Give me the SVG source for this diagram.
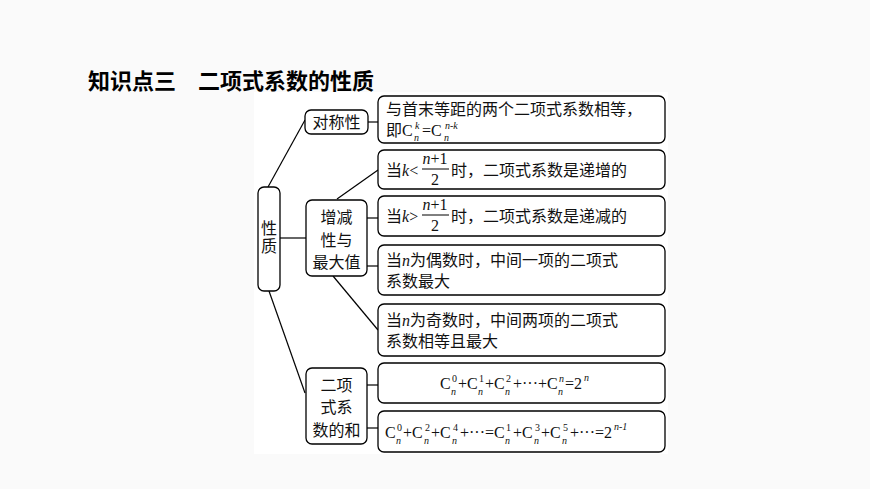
<svg xmlns="http://www.w3.org/2000/svg" width="870" height="489" viewBox="0 0 870 489">
<style>
.b{fill:#fff;stroke:#000;stroke-width:1.3}
.t{font-family:"Liberation Serif","Noto Sans CJK SC",serif;font-size:16px;fill:#111}
.m{font-family:"Liberation Serif",serif;font-size:16px;fill:#111}
.s{font-family:"Liberation Serif",serif;font-size:10px;font-style:italic;fill:#111}
.u{font-family:"Liberation Serif",serif;font-size:10px;fill:#111}
.i{font-style:italic}
#c line{stroke:#000;stroke-width:1.2}
</style>
<rect width="870" height="489" fill="#fafafa"/>
<rect x="254" y="92" width="414" height="362" fill="#fff"/>
<text x="88" y="89" style="font-family:'Noto Sans CJK SC',sans-serif;font-size:22px;font-weight:700" fill="#000">知识点三　二项式系数的性质</text>
<g id="c">
<line x1="268" y1="187" x2="305" y2="120"/>
<line x1="280" y1="238" x2="306" y2="238"/>
<line x1="269" y1="291" x2="305" y2="393"/>
<line x1="368" y1="122" x2="378" y2="122"/>
<line x1="337" y1="199" x2="378" y2="170"/>
<line x1="367" y1="218" x2="378" y2="218"/>
<line x1="367" y1="266" x2="378" y2="266"/>
<line x1="333" y1="276" x2="378" y2="330"/>
<line x1="367" y1="385" x2="378" y2="385"/>
<line x1="367" y1="428" x2="378" y2="428"/>
</g>
<g id="n0"><rect class="b" x="258" y="187" width="22" height="104" rx="6"/><text class="t" x="269" y="234" text-anchor="middle">性</text><text class="t" x="269" y="252" text-anchor="middle">质</text></g>
<g id="n1"><rect class="b" x="305" y="110" width="63" height="24" rx="6"/><text class="t" x="336.5" y="128" text-anchor="middle">对称性</text></g>
<g id="n2"><rect class="b" x="306" y="200" width="61" height="76" rx="6"/><text class="t" x="336.5" y="223" text-anchor="middle">增减</text><text class="t" x="336.5" y="246" text-anchor="middle">性与</text><text class="t" x="336.5" y="268" text-anchor="middle">最大值</text></g>
<g id="n3"><rect class="b" x="306" y="368" width="61" height="76" rx="6"/><text class="t" x="336.5" y="391" text-anchor="middle">二项</text><text class="t" x="336.5" y="413" text-anchor="middle">式系</text><text class="t" x="336.5" y="436" text-anchor="middle">数的和</text></g>
<g id="r1"><rect class="b" x="378" y="96" width="287" height="47" rx="6"/><text class="t" x="386" y="115">与首末等距的两个二项式系数相等，</text><text class="t" x="386" y="136">即C</text><text class="s" x="415" y="129">k</text><text class="s" x="414" y="141">n</text><text class="m" x="422" y="136">=C</text><text class="s" x="445" y="129">n-k</text><text class="s" x="444" y="141">n</text></g>
<g id="r2"><rect class="b" x="378" y="150" width="287" height="39" rx="6"/><text class="t" x="386" y="176">当<tspan class="i">k</tspan>&lt;</text><text class="m" x="435" y="164" text-anchor="middle"><tspan class="i">n</tspan>+1</text><line x1="422" y1="169" x2="449" y2="169" stroke="#000" stroke-width="1"/><text class="m" x="435" y="185" text-anchor="middle">2</text><text class="t" x="451" y="176">时，二项式系数是递增的</text></g>
<g id="r3"><rect class="b" x="378" y="196" width="287" height="40" rx="6"/><text class="t" x="386" y="222">当<tspan class="i">k</tspan>&gt;</text><text class="m" x="435" y="210" text-anchor="middle"><tspan class="i">n</tspan>+1</text><line x1="422" y1="215" x2="449" y2="215" stroke="#000" stroke-width="1"/><text class="m" x="435" y="231" text-anchor="middle">2</text><text class="t" x="451" y="222">时，二项式系数是递减的</text></g>
<g id="r4"><rect class="b" x="378" y="245" width="287" height="50" rx="6"/><text class="t" x="386" y="266">当<tspan class="i">n</tspan>为偶数时，中间一项的二项式</text><text class="t" x="386" y="287">系数最大</text></g>
<g id="r5"><rect class="b" x="378" y="304" width="287" height="52" rx="6"/><text class="t" x="386" y="326">当<tspan class="i">n</tspan>为奇数时，中间两项的二项式</text><text class="t" x="386" y="347">系数相等且最大</text></g>
<g id="r6"><rect class="b" x="378" y="363" width="287" height="40" rx="6"/>
<text class="m" x="440" y="389">C</text><text class="u" x="452" y="382">0</text><text class="s" x="451" y="395">n</text>
<text class="m" x="458" y="389">+C</text><text class="u" x="479" y="382">1</text><text class="s" x="478" y="395">n</text>
<text class="m" x="485" y="389">+C</text><text class="u" x="506" y="382">2</text><text class="s" x="505" y="395">n</text>
<text class="m" x="513" y="389">+···+C</text><text class="s" x="559" y="382">n</text><text class="s" x="558" y="395">n</text>
<text class="m" x="565" y="389">=2</text><text class="s" x="584" y="381">n</text></g>
<g id="r7"><rect class="b" x="378" y="411" width="287" height="41" rx="6"/>
<text class="m" x="385" y="438">C</text><text class="u" x="397" y="431">0</text><text class="s" x="396" y="444">n</text>
<text class="m" x="403" y="438">+C</text><text class="u" x="425" y="431">2</text><text class="s" x="424" y="444">n</text>
<text class="m" x="431" y="438">+C</text><text class="u" x="453" y="431">4</text><text class="s" x="452" y="444">n</text>
<text class="m" x="460" y="438">+···=C</text><text class="u" x="506" y="431">1</text><text class="s" x="505" y="444">n</text>
<text class="m" x="513" y="438">+C</text><text class="u" x="535" y="431">3</text><text class="s" x="534" y="444">n</text>
<text class="m" x="541" y="438">+C</text><text class="u" x="563" y="431">5</text><text class="s" x="562" y="444">n</text>
<text class="m" x="570" y="438">+···=2</text><text class="s" x="614" y="430">n-1</text></g>
</svg>
